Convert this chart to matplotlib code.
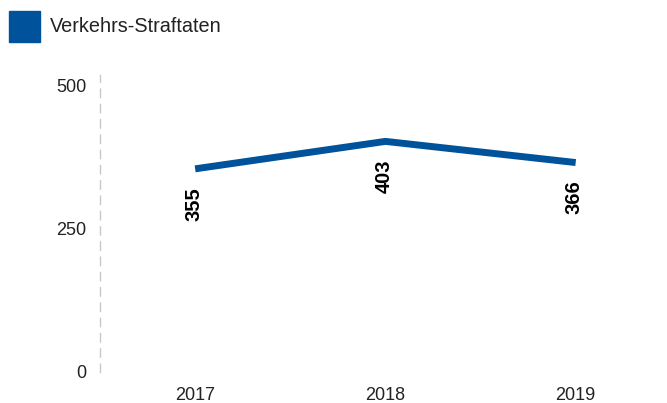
import matplotlib.pyplot as plt
from matplotlib.patches import Rectangle

plt.rcParams['font.family'] = ['Liberation Sans', 'DejaVu Sans']

years = [2017, 2018, 2019]
values = [355, 403, 366]
series_name = "Verkehrs-Straftaten"
yticks = [0, 250, 500]

blue = '#00539b'
text_col = '#222222'

fig = plt.figure(figsize=(6.67, 4.03), dpi=100)
ax = fig.add_axes([100 / 667, 31 / 403, 567 / 667, 297 / 403])

ax.plot(years, values, color=blue, linewidth=5, solid_capstyle='butt')

# value labels, rotated, below each point
for x, v in zip(years, values):
    ax.annotate(str(v), (x, v), xytext=(-1, -13), textcoords='offset points',
                rotation=90, ha='center', va='top', fontsize=14.5,
                fontweight='bold', color='black')

ax.set_xlim(2016.5, 2019.48)
ax.set_ylim(0, 519)
ax.set_xticks(years)
ax.set_yticks(yticks)
ax.tick_params(length=0, labelsize=13, colors=text_col, pad=10)
ax.tick_params(axis='x', pad=10.5)

for s in ['top', 'right', 'bottom']:
    ax.spines[s].set_visible(False)
ax.spines['left'].set_color('#c8c8c8')
ax.spines['left'].set_linewidth(1)
ax.spines['left'].set_linestyle((0, (6, 5)))

# legend at top left
fig.patches.append(Rectangle((9 / 667, 1 - 42 / 403), 31 / 667, 31 / 403,
                             transform=fig.transFigure, color=blue))
fig.text(50 / 667, 1 - 27 / 403, series_name, fontsize=14.3, color=text_col,
         va='center', ha='left')

fig.savefig('out.png', dpi=100)
